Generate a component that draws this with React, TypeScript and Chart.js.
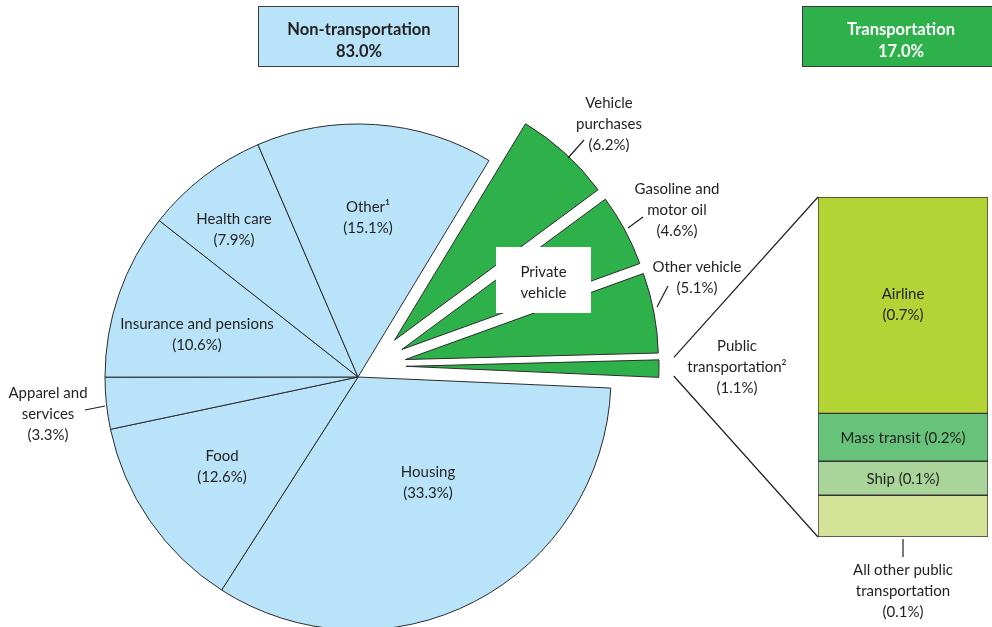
import React, { useEffect, useRef } from 'react';
import { Chart, registerables } from 'chart.js';

Chart.register(...registerables);

// ---------------- DATA ----------------
const SLICE_LABELS = [
  'Housing',
  'Food',
  'Apparel and\nservices',
  'Insurance and pensions',
  'Health care',
  'Other¹',
  'Vehicle\npurchases',
  'Gasoline and\nmotor oil',
  'Other vehicle',
  'Public\ntransportation²',
];
const SLICE_SHARES = [33.3, 12.6, 3.3, 10.6, 7.9, 15.1, 6.2, 4.6, 5.1, 1.1];
const SLICE_IS_TRANSPORT = [false, false, false, false, false, false, true, true, true, true];

const GROUP_NAMES = ['Non-transportation', 'Transportation'];
const GROUP_SHARES = [83.0, 17.0];
const SUBGROUP_NAME = 'Private\nvehicle';

// Public transportation breakdown (bottom to top of the stacked bar)
const PUBLIC_LABELS = ['All other public\ntransportation', 'Ship', 'Mass transit', 'Airline'];
const PUBLIC_SHARES = [0.135, 0.11, 0.155, 0.7]; // bar heights
const PUBLIC_PRINTED = [0.1, 0.1, 0.2, 0.7]; // values printed in labels

// ---------------- STYLE / LAYOUT ----------------
const BLUE = '#b9e3f8';
const GREEN = '#2eb04b';
const PUBLIC_COLORS = ['#d4e397', '#a9d59b', '#67c27a', '#b4d334'];
const INK = '#231f20';
const FONT = 'Lato, "Open Sans", sans-serif';
const LINE_H = 21;

const PIE = { cx: 358, cy: 377, r: 253, rotation: 92.5 };
const GROUP_SHIFT = { dx: 13, dy: -11 };
const EXPLODE = 35;

const BAR = { left: 818, top: 197, right: 988, bottom: 537 };

const PIE_LABEL_POS = [
  { x: 428, y: 477 },
  { x: 222, y: 461 },
  { x: 48, y: 398 },
  { x: 197, y: 329 },
  { x: 234, y: 224 },
  { x: 368, y: 212 },
  { x: 609, y: 108 },
  { x: 677, y: 194 },
  { x: 697, y: 272 },
  { x: 737, y: 351 },
];

const LEADERS = [
  [568, 158, 584, 140],
  [628, 228, 643, 217],
  [657, 307, 668, 286],
  [85, 410, 105, 406],
];

const HEADER_BOXES = [
  { x: 258.5, y: 6.5, w: 200, h: 60, fill: BLUE, color: INK, tx: 359 },
  { x: 802.5, y: 6.5, w: 200, h: 60, fill: GREEN, color: '#ffffff', tx: 901 },
];

const PRIVATE_BOX = { x: 496, y: 247, w: 95, h: 66, tx: 543.5, ty: 277 };

const PUBLIC_LABEL_MODE = ['below', 'inline', 'inline', 'stacked'];

const fmt = (v: number) => `(${v.toFixed(1)}%)`;

function drawLines(ctx: CanvasRenderingContext2D, lines: string[], x: number, y: number) {
  lines.forEach((l, i) => ctx.fillText(l, x, y + i * LINE_H));
}

const explodePlugin = {
  id: 'explodeTransport',
  afterDatasetsUpdate(chart: any) {
    const meta = chart.getDatasetMeta(0);
    meta.data.forEach((arc: any, i: number) => {
      if (!SLICE_IS_TRANSPORT[i]) return;
      const mid = (arc.startAngle + arc.endAngle) / 2;
      arc.x = arc.x + GROUP_SHIFT.dx + EXPLODE * Math.cos(mid);
      arc.y = arc.y + GROUP_SHIFT.dy + EXPLODE * Math.sin(mid);
    });
  },
};

const pieAnnotations = {
  id: 'pieAnnotations',
  afterDraw(chart: any) {
    const ctx: CanvasRenderingContext2D = chart.ctx;
    const meta = chart.getDatasetMeta(0);
    ctx.save();
    ctx.strokeStyle = INK;
    ctx.lineWidth = 1.2;

    // connector lines from public transportation slice to the bar
    const pt: any = meta.data[meta.data.length - 1];
    const rr = pt.outerRadius + 15;
    const p1 = [pt.x + rr * Math.cos(pt.startAngle), pt.y + rr * Math.sin(pt.startAngle) - 2];
    const p2 = [pt.x + rr * Math.cos(pt.endAngle), pt.y + rr * Math.sin(pt.endAngle) - 2];
    ctx.beginPath();
    ctx.moveTo(p1[0], p1[1]);
    ctx.lineTo(BAR.left, BAR.top);
    ctx.moveTo(p2[0], p2[1]);
    ctx.lineTo(BAR.left, BAR.bottom);
    ctx.stroke();

    // leader lines
    ctx.beginPath();
    LEADERS.forEach(([x1, y1, x2, y2]) => {
      ctx.moveTo(x1, y1);
      ctx.lineTo(x2, y2);
    });
    ctx.stroke();

    // slice labels
    ctx.fillStyle = INK;
    ctx.font = `15px ${FONT}`;
    ctx.textAlign = 'center';
    ctx.textBaseline = 'alphabetic';
    SLICE_LABELS.forEach((label, i) => {
      const pos = PIE_LABEL_POS[i];
      drawLines(ctx, [...label.split('\n'), fmt(SLICE_SHARES[i])], pos.x, pos.y);
    });

    // private vehicle box
    ctx.fillStyle = '#ffffff';
    ctx.fillRect(PRIVATE_BOX.x, PRIVATE_BOX.y, PRIVATE_BOX.w, PRIVATE_BOX.h);
    ctx.fillStyle = INK;
    drawLines(ctx, SUBGROUP_NAME.split('\n'), PRIVATE_BOX.tx, PRIVATE_BOX.ty);

    // header boxes
    HEADER_BOXES.forEach((b, i) => {
      ctx.fillStyle = b.fill;
      ctx.fillRect(b.x, b.y, b.w, b.h);
      ctx.strokeStyle = '#3a3a3a';
      ctx.lineWidth = 1;
      ctx.strokeRect(b.x, b.y, b.w, b.h);
      ctx.fillStyle = b.color;
      ctx.font = `bold 16.5px ${FONT}`;
      ctx.fillText(GROUP_NAMES[i], b.tx, 35);
      ctx.fillText(`${GROUP_SHARES[i].toFixed(1)}%`, b.tx, 56.5);
    });
    ctx.restore();
  },
};

const barAnnotations = {
  id: 'barAnnotations',
  afterDatasetsDraw(chart: any) {
    const ctx: CanvasRenderingContext2D = chart.ctx;
    ctx.save();
    ctx.fillStyle = INK;
    ctx.strokeStyle = INK;
    ctx.lineWidth = 1.2;
    ctx.font = `15px ${FONT}`;
    ctx.textAlign = 'center';
    ctx.textBaseline = 'alphabetic';
    PUBLIC_LABELS.forEach((label, i) => {
      const el: any = chart.getDatasetMeta(i).data[0];
      const top = Math.min(el.y, el.base);
      const bottom = Math.max(el.y, el.base);
      const cy = (top + bottom) / 2;
      const mode = PUBLIC_LABEL_MODE[i];
      const value = fmt(PUBLIC_PRINTED[i]);
      if (mode === 'inline') {
        ctx.fillText(`${label} ${value}`, el.x, cy + 5.5);
      } else if (mode === 'stacked') {
        drawLines(ctx, [label, value], el.x, cy - 6.5);
      } else {
        ctx.beginPath();
        ctx.moveTo(el.x, bottom + 2);
        ctx.lineTo(el.x, bottom + 20);
        ctx.stroke();
        drawLines(ctx, [...label.split('\n'), value], el.x, bottom + 38);
      }
    });
    ctx.restore();
  },
};

export default function App() {
  const pieRef = useRef<HTMLCanvasElement>(null);
  const barRef = useRef<HTMLCanvasElement>(null);

  useEffect(() => {
    document.body.style.margin = '0';
    const pieChart = new Chart(pieRef.current as HTMLCanvasElement, {
      type: 'pie',
      data: {
        labels: SLICE_LABELS,
        datasets: [
          {
            data: SLICE_SHARES,
            backgroundColor: SLICE_IS_TRANSPORT.map((t) => (t ? GREEN : BLUE)),
            borderColor: '#2b2b2b',
            borderWidth: 1,
            rotation: PIE.rotation,
            radius: PIE.r,
            clip: false,
          } as any,
        ],
      },
      options: {
        responsive: false,
        animation: false,
        events: [],
        rotation: PIE.rotation,
        radius: PIE.r,
        layout: {
          padding: { left: 0, right: 992 - 2 * PIE.cx, top: 2 * PIE.cy - 627, bottom: 0 },
        },
        plugins: { legend: { display: false }, tooltip: { enabled: false } },
      } as any,
      plugins: [explodePlugin, pieAnnotations],
    });

    const total = PUBLIC_SHARES.reduce((a, b) => a + b, 0);
    const barChart = new Chart(barRef.current as HTMLCanvasElement, {
      type: 'bar',
      data: {
        labels: ['Public transportation'],
        datasets: PUBLIC_LABELS.map((label, i) => ({
          label,
          data: [PUBLIC_SHARES[i]],
          backgroundColor: PUBLIC_COLORS[i],
          borderColor: '#333333',
          borderWidth: 1,
          borderSkipped: false,
          barPercentage: 1,
          categoryPercentage: 1,
        })),
      },
      options: {
        responsive: false,
        animation: false,
        events: [],
        layout: { padding: { left: 4, right: 4, top: 4, bottom: 627 - BAR.bottom } },
        scales: {
          x: { display: false, stacked: true },
          y: { display: false, stacked: true, min: 0, max: total },
        },
        plugins: { legend: { display: false }, tooltip: { enabled: false } },
      },
      plugins: [barAnnotations],
    });

    return () => {
      pieChart.destroy();
      barChart.destroy();
    };
  }, []);

  return (
    <div
      style={{
        position: 'fixed',
        left: 0,
        top: 0,
        width: 992,
        height: 627,
        overflow: 'hidden',
        background: '#ffffff',
      }}
    >
      <canvas
        ref={pieRef}
        width={992}
        height={627}
        style={{ position: 'absolute', left: 0, top: 0, display: 'block' }}
      />
      <canvas
        ref={barRef}
        width={992 - (BAR.left - 4)}
        height={627 - (BAR.top - 4)}
        style={{ position: 'absolute', left: BAR.left - 4, top: BAR.top - 4, display: 'block' }}
      />
    </div>
  );
}
